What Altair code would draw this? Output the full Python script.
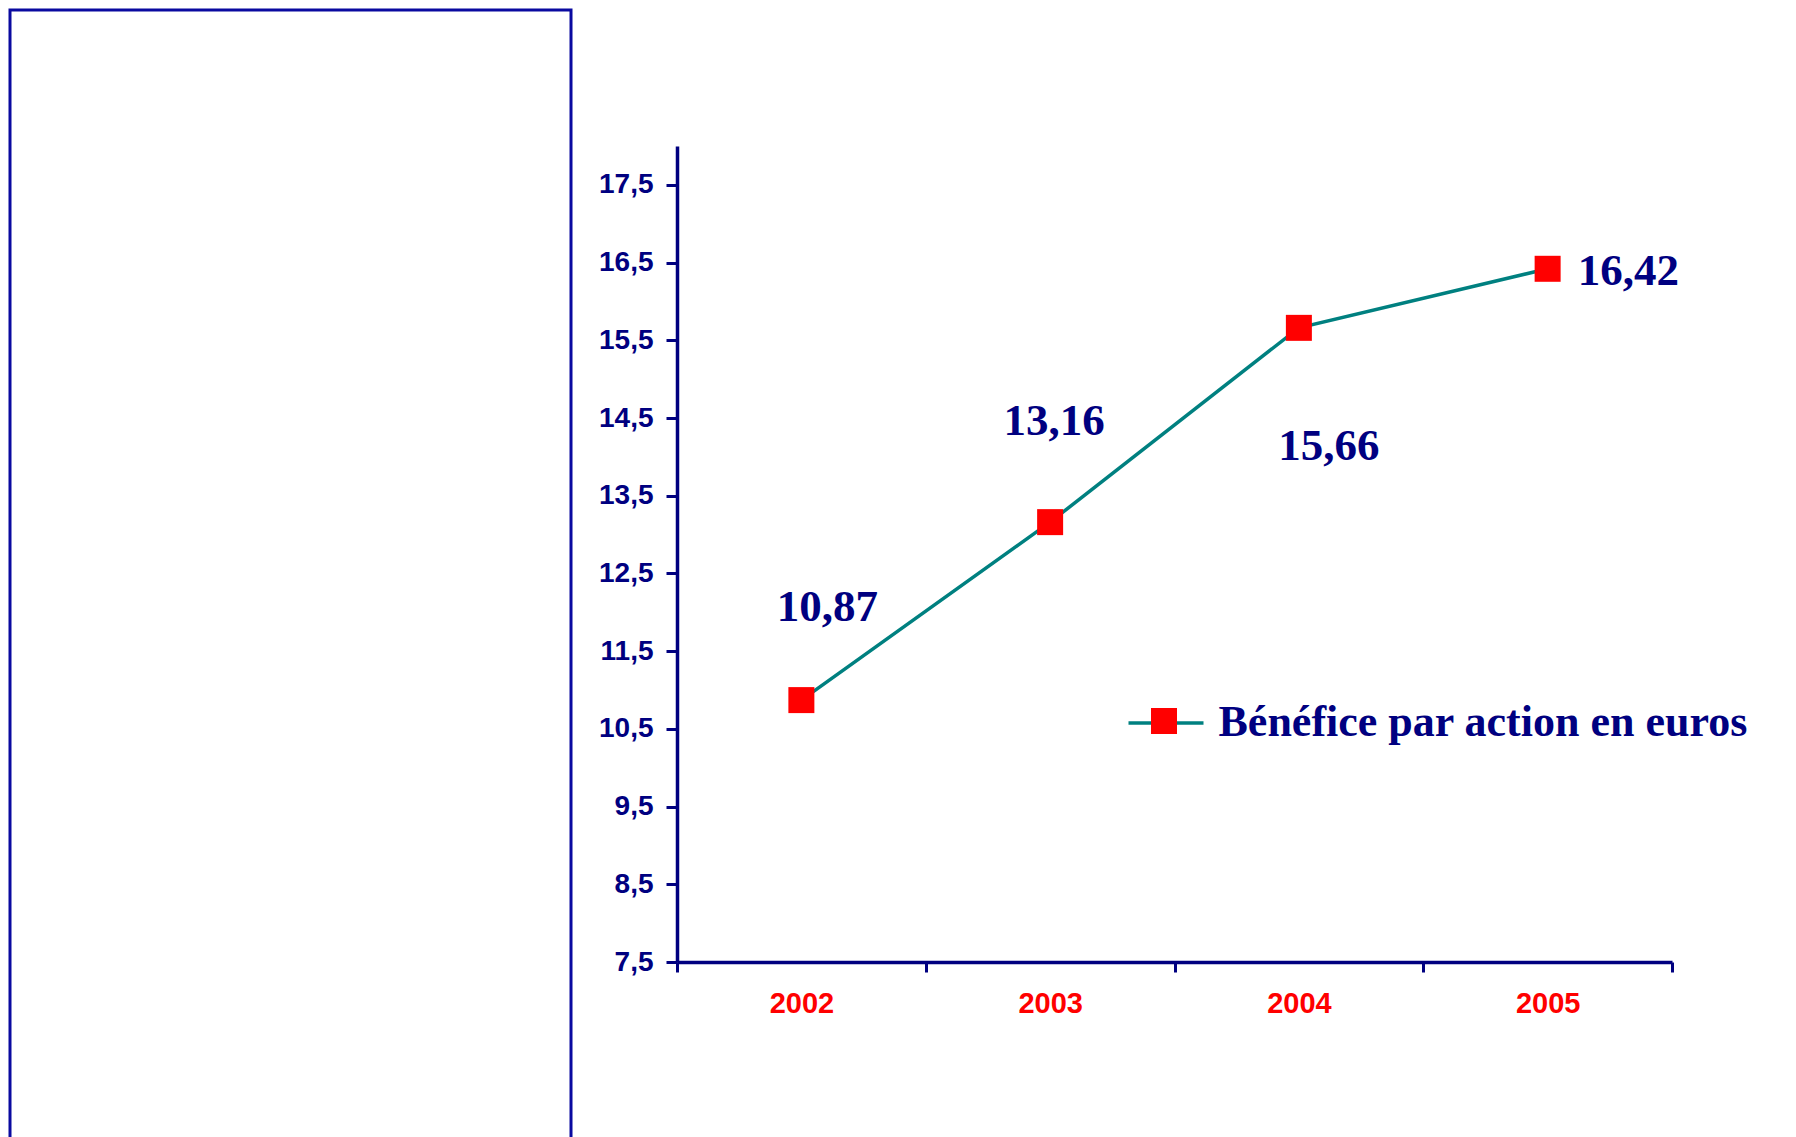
import altair as alt
import pandas as pd

# ---- data ----
years = ["2002", "2003", "2004", "2005"]
values = [10.87, 13.16, 15.66, 16.42]
value_labels = ["10,87", "13,16", "15,66", "16,42"]
y_ticks = [7.5, 8.5, 9.5, 10.5, 11.5, 12.5, 13.5, 14.5, 15.5, 16.5, 17.5]
series_name = "Bénéfice par action en euros"
marker_name = "Bénéfice par action en euros (marqueur)"

NAVY = "#000080"
RED = "#FF0000"
TEAL = "#008080"
BOX = "#0a0aa0"

df = pd.DataFrame({
    "year": years,
    "value": values,
    "label": value_labels,
    "serie": [series_name] * len(years),
    "serie_pt": [marker_name] * len(years),
})

x_enc = alt.X(
    "year:N", sort=years,
    scale=alt.Scale(paddingInner=0, paddingOuter=0),
    axis=alt.Axis(
        title=None, labelAngle=0, labelColor=RED, labelFont="Liberation Sans",
        labelFontWeight="bold", labelFontSize=29, labelPadding=17,
        tickBand="extent", domainColor=NAVY, domainWidth=3.5,
        tickColor=NAVY, tickWidth=3, tickSize=10, grid=False,
    ),
)
y_enc = alt.Y(
    "value:Q",
    scale=alt.Scale(domain=[7.5, 18.0], nice=False, zero=False),
    axis=alt.Axis(
        title=None, values=y_ticks,
        labelExpr="replace(format(datum.value, '.1f'), '.', ',')",
        labelColor=NAVY, labelFont="Liberation Sans", labelFontWeight="bold",
        labelFontSize=28, labelPadding=13, domainColor=NAVY, domainWidth=3.5,
        tickColor=NAVY, tickWidth=3, tickSize=11, grid=False,
    ),
)

base = alt.Chart(df)

line = base.mark_line(strokeWidth=3.5).encode(
    x=x_enc, y=y_enc,
    stroke=alt.Stroke(
        "serie:N",
        scale=alt.Scale(domain=[series_name], range=[TEAL]),
        legend=alt.Legend(
            title=None, orient="none", legendX=449.5, legendY=537.5,
            symbolType="stroke", symbolSize=5625, symbolStrokeWidth=3.5,
            labelFont="Liberation Serif", labelFontWeight="bold",
            labelFontSize=44, labelColor=NAVY, labelOffset=13,
            labelLimit=1000, padding=0,
        ),
    ),
)

points = base.mark_square(size=676, opacity=1, filled=True).encode(
    x=x_enc, y=y_enc,
    fill=alt.Fill(
        "serie_pt:N",
        scale=alt.Scale(domain=[marker_name], range=[RED]),
        legend=alt.Legend(
            title=None, orient="none", legendX=474, legendY=562,
            symbolType="square", symbolSize=676, symbolStrokeWidth=0,
            symbolOpacity=1, labelExpr="''", labelFontSize=1,
            labelOffset=0, padding=0,
        ),
    ),
)

# label offsets (style only)
offsets = {"2002": (26, -93, "center"), "2003": (4, -101, "center"),
           "2004": (30, 118, "center"), "2005": (30, 2, "left")}
texts = []
for yr in years:
    dx, dy, al = offsets[yr]
    texts.append(
        base.transform_filter(alt.datum.year == yr).mark_text(
            font="Liberation Serif", fontWeight="bold", fontSize=45,
            color=NAVY, dx=dx, dy=dy, align=al, baseline="middle",
        ).encode(x=x_enc, y=y_enc, text="label:N")
    )

main = alt.layer(line, points, *texts).properties(width=995, height=816)

dummy = pd.DataFrame({"a": [0]})
spacer = alt.Chart(dummy).mark_point(opacity=0).encode(
    x=alt.X("a:Q", axis=None), y=alt.Y("a:Q", axis=None)
).properties(width=995, height=136)

left = alt.Chart(dummy).mark_point(opacity=0).encode(
    x=alt.X("a:Q", axis=None), y=alt.Y("a:Q", axis=None)
).properties(width=561, height=1200,
             view=alt.ViewBackground(stroke=BOX, strokeWidth=3))

right = alt.vconcat(spacer, main, spacing=0).resolve_scale(
    fill="independent", stroke="independent")

chart = alt.hconcat(left, right, spacing=25).resolve_scale(
    fill="independent", stroke="independent"
).properties(padding=0, background="white").configure_view(strokeWidth=0)

chart.save("out.html", embed_options={"renderer": "svg", "actions": False})
